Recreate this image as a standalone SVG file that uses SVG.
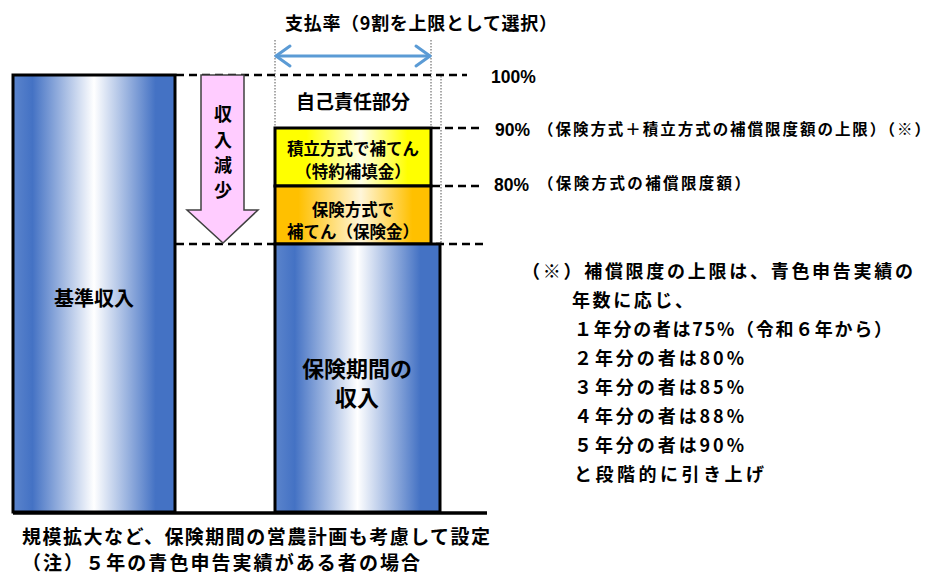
<svg xmlns="http://www.w3.org/2000/svg" width="939" height="575" viewBox="0 0 939 575">
<defs>
<linearGradient id="gBlue" x1="0" y1="0" x2="1" y2="0">
<stop offset="0" stop-color="#5B84CC"/><stop offset="0.12" stop-color="#4472C4"/><stop offset="0.5" stop-color="#FFFFFF"/><stop offset="0.88" stop-color="#4472C4"/><stop offset="1" stop-color="#4472C4"/>
</linearGradient>
<linearGradient id="gYel" x1="0" y1="0" x2="1" y2="0">
<stop offset="0" stop-color="#FFFF00"/><stop offset="0.2" stop-color="#FFFF00"/><stop offset="0.55" stop-color="#FFFFE8"/><stop offset="0.85" stop-color="#FFFF00"/><stop offset="1" stop-color="#FFFF00"/>
</linearGradient>
<linearGradient id="gOra" x1="0" y1="0" x2="1" y2="0">
<stop offset="0" stop-color="#FFC000"/><stop offset="0.15" stop-color="#FFC000"/><stop offset="0.55" stop-color="#FFF6DA"/><stop offset="0.88" stop-color="#FFC000"/><stop offset="1" stop-color="#FFC000"/>
</linearGradient>
</defs>
<style>
text{font-family:"Noto Sans CJK JP","Liberation Sans",sans-serif;font-weight:bold;fill:#000}
.num{font-family:"Liberation Sans","Noto Sans CJK JP",sans-serif}
.box{stroke:#000;stroke-width:3}
.dash{stroke:#000;stroke-width:2.5;stroke-dasharray:8 5;fill:none}
.dot{stroke:#555;stroke-width:1;stroke-dasharray:1.5 1.5;fill:none}
.mid{text-anchor:middle}
</style>
<g id="connectors">
<line class="dash" x1="176" y1="75" x2="467" y2="75"/>
<line class="dash" x1="432" y1="128" x2="483" y2="128"/>
<line class="dash" x1="432" y1="186" x2="480" y2="186"/>
<line class="dash" x1="176" y1="244" x2="487" y2="244"/>
<line class="dot" x1="275" y1="40" x2="275" y2="128"/>
<line class="dot" x1="431" y1="40" x2="431" y2="128"/>
<line class="dot" x1="441" y1="76" x2="441" y2="244"/>
<g id="rate-arrow" stroke="#5B9BD5" stroke-width="3" fill="none" stroke-linecap="round" stroke-linejoin="round">
<line x1="276" y1="56" x2="430" y2="56"/>
<polyline points="290,46 276,56 290,66"/>
<polyline points="416,46 430,56 416,66"/>
</g>
<line x1="13" y1="513" x2="487" y2="513" stroke="#000" stroke-width="3.5"/>
</g>
<g id="base-income">
<rect class="box" x="13" y="75" width="162" height="437" fill="url(#gBlue)"/>
<text class="mid" x="94" y="306" font-size="20">基準収入</text>
</g>
<g id="income-decrease">
<polygon points="201,75 244,75 244,210 258,210 223,243 187,210 201,210" fill="#FFCCFF" stroke="#404040" stroke-width="1.5"/>
<text class="mid" x="223" y="121" font-size="18">収</text>
<text class="mid" x="223" y="147" font-size="18">入</text>
<text class="mid" x="223" y="172" font-size="18">減</text>
<text class="mid" x="223" y="197" font-size="18">少</text>
</g>
<g id="self-part">
<text class="mid" x="353" y="109" font-size="19">自己責任部分</text>
</g>
<g id="special-payment">
<rect class="box" x="275" y="128" width="156" height="58" fill="url(#gYel)"/>
<text class="mid" x="353" y="155" font-size="16.5">積立方式で補てん</text>
<text class="mid" x="353" y="178" font-size="16.5">（特約補填金）</text>
</g>
<g id="insurance-payment">
<rect class="box" x="275" y="186" width="156" height="58" fill="url(#gOra)"/>
<text class="mid" x="353" y="216" font-size="16.5">保険方式で</text>
<text class="mid" x="353" y="238" font-size="16.5">補てん（保険金）</text>
</g>
<g id="period-income">
<rect class="box" x="275" y="244" width="165" height="268" fill="url(#gBlue)"/>
<text class="mid" x="357" y="377" font-size="22">保険期間の</text>
<text class="mid" x="357" y="406" font-size="22">収入</text>
</g>
<g id="title">
<text x="285" y="30" font-size="18" textLength="272">支払率（9割を上限として選択）</text>
</g>
<g id="levels">
<text class="num" x="491" y="83" font-size="17.5">100%</text>
<text class="num" x="495" y="136" font-size="17.5">90%</text>
<text x="538" y="135" font-size="15.5" textLength="392">（保険方式＋積立方式の補償限度額の上限）（※）</text>
<text class="num" x="494" y="191" font-size="17.5">80%</text>
<text x="538" y="189" font-size="15.5" textLength="212">（保険方式の補償限度額）</text>
</g>
<g id="note">
<text x="522" y="278" font-size="18" textLength="391">（※）補償限度の上限は、青色申告実績の</text>
<text x="572" y="307" font-size="18" textLength="121">年数に応じ、</text>
<text x="574" y="336" font-size="18" textLength="318">１年分の者は75%（令和６年から）</text>
<text x="574" y="365" font-size="18" textLength="170">２年分の者は80%</text>
<text x="574" y="394" font-size="18" textLength="170">３年分の者は85%</text>
<text x="574" y="423" font-size="18" textLength="170">４年分の者は88%</text>
<text x="574" y="452" font-size="18" textLength="170">５年分の者は90%</text>
<text x="574" y="481" font-size="18" textLength="190">と段階的に引き上げ</text>
</g>
<g id="footer">
<text x="22" y="544" font-size="19" textLength="468">規模拡大など、保険期間の営農計画も考慮して設定</text>
<text x="22" y="570" font-size="19" textLength="398">（注）５年の青色申告実績がある者の場合</text>
</g>
</svg>
